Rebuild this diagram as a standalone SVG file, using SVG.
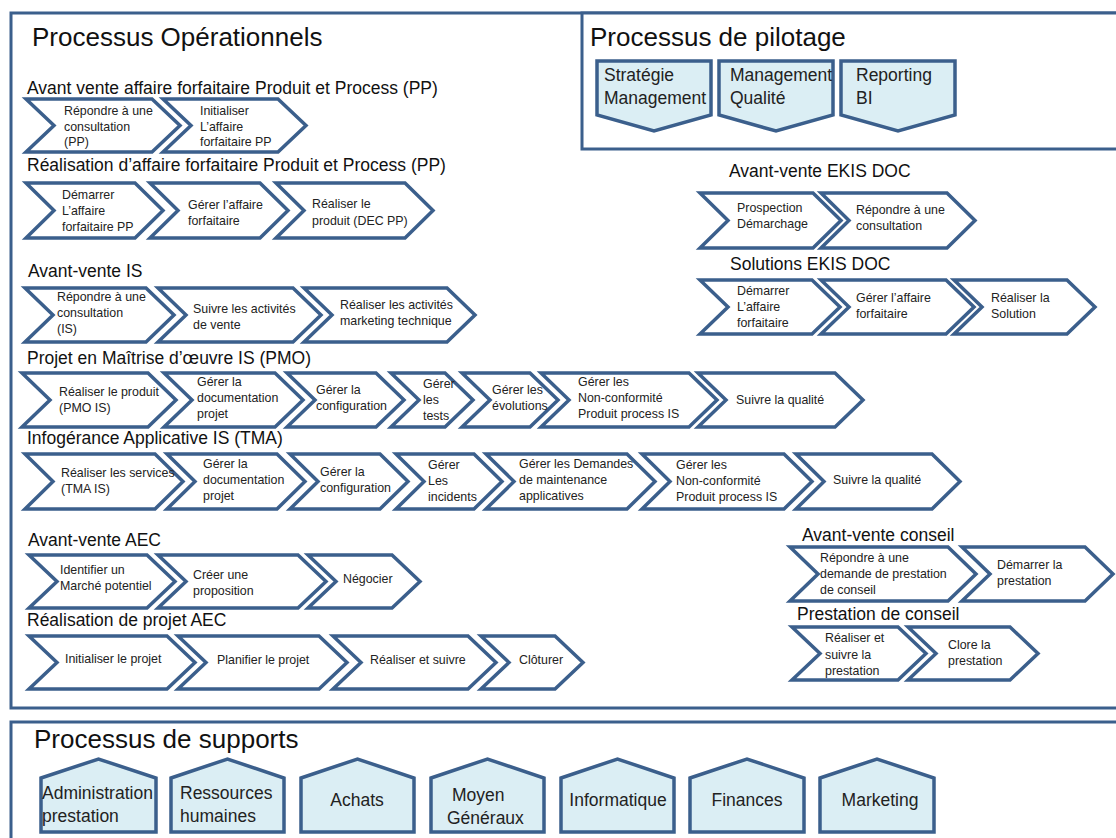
<svg xmlns="http://www.w3.org/2000/svg" width="1116" height="838" viewBox="0 0 1116 838">
<style>
.frame{fill:#ffffff;stroke:#3b5f8c;stroke-width:3}
.chev{fill:#ffffff;stroke:#3b5f8c;stroke-width:3.5;stroke-linejoin:miter}
.pent{fill:#dbeef4;stroke:#3b5f8c;stroke-width:3.5;stroke-linejoin:miter}
.title{font-family:"Liberation Sans",Arial,sans-serif;font-size:26px;fill:#111}
.head{font-family:"Liberation Sans",Arial,sans-serif;font-size:17.5px;fill:#111}
.t{font-family:"Liberation Sans",Arial,sans-serif;font-size:12.4px;fill:#222}
.pt{font-family:"Liberation Sans",Arial,sans-serif;font-size:17.5px;fill:#222}
.mid{text-anchor:middle}
</style>
<rect width="1116" height="838" fill="#ffffff"/>
<g id="frames">
<rect class="frame" x="11" y="13" width="1112" height="695"/>
<rect class="frame" x="582" y="13" width="540" height="136"/>
<rect class="frame" x="11" y="722" width="1112" height="130"/>
<text class="title" x="32" y="46">Processus Opérationnels</text>
<text class="title" x="590" y="46">Processus de pilotage</text>
<text class="title" x="34" y="748">Processus de supports</text>
</g>
<g id="connectors"/>
<g id="pilotage">
<g id="p-strategie"><polygon class="pent" points="597,61 711,61 711,115 654,131 597,115"/><text class="pt" x="604" y="81">Stratégie</text><text class="pt" x="604" y="104">Management</text></g>
<g id="p-qualite"><polygon class="pent" points="719,61 833,61 833,115 776,131 719,115"/><text class="pt" x="730" y="81">Management</text><text class="pt" x="730" y="104">Qualité</text></g>
<g id="p-reporting"><polygon class="pent" points="841,61 955,61 955,115 898,131 841,115"/><text class="pt" x="856" y="81">Reporting</text><text class="pt" x="856" y="104">BI</text></g>
</g>
<g id="supports">
<g id="s-admin"><polygon class="pent" points="41,778 98.5,759 156,778 156,832 41,832"/><text class="pt" x="42" y="799">Administration</text><text class="pt" x="42" y="822">prestation</text></g>
<g id="s-rh"><polygon class="pent" points="171,778 227.5,759 284,778 284,832 171,832"/><text class="pt" x="180" y="799">Ressources</text><text class="pt" x="180" y="822">humaines</text></g>
<g id="s-achats"><polygon class="pent" points="301,778 357.5,759 414,778 414,832 301,832"/><text class="pt mid" x="357" y="806">Achats</text></g>
<g id="s-moyen"><polygon class="pent" points="431,778 487.5,759 544,778 544,832 431,832"/><text class="pt" x="452" y="801">Moyen</text><text class="pt" x="447" y="824">Généraux</text></g>
<g id="s-info"><polygon class="pent" points="561,778 617.5,759 674,778 674,832 561,832"/><text class="pt mid" x="618" y="806">Informatique</text></g>
<g id="s-fin"><polygon class="pent" points="690,778 747,759 804,778 804,832 690,832"/><text class="pt mid" x="747" y="806">Finances</text></g>
<g id="s-mkt"><polygon class="pent" points="820,778 877,759 934,778 934,832 820,832"/><text class="pt mid" x="880" y="806">Marketing</text></g>
</g>
<g id="headings">
<text class="head" x="27" y="94">Avant vente affaire forfaitaire Produit et Process (PP)</text>
<text class="head" x="27" y="171">Réalisation d’affaire forfaitaire Produit et Process (PP)</text>
<text class="head" x="28" y="277">Avant-vente IS</text>
<text class="head" x="27" y="364">Projet en Maîtrise d’œuvre IS (PMO)</text>
<text class="head" x="27" y="444">Infogérance Applicative IS (TMA)</text>
<text class="head" x="28" y="546">Avant-vente AEC</text>
<text class="head" x="27" y="626">Réalisation de projet AEC</text>
<text class="head" x="729" y="177">Avant-vente EKIS DOC</text>
<text class="head" x="730" y="270">Solutions EKIS DOC</text>
<text class="head" x="802" y="541">Avant-vente conseil</text>
<text class="head" x="797" y="620">Prestation de conseil</text>
</g>
<g id="row-pp-av">
<g id="pp1"><polygon class="chev" points="26,99 152,99 180,125.5 152,152 26,152 54,125.5"/><text class="t" x="64" y="115">Répondre à une</text><text class="t" x="64" y="131">consultation</text><text class="t" x="64" y="146">(PP)</text></g>
<g id="pp2"><polygon class="chev" points="163,99 278,99 306,125.5 278,152 163,152 191,125.5"/><text class="t" x="200" y="115">Initialiser</text><text class="t" x="200" y="131">L’affaire</text><text class="t" x="200" y="146">forfaitaire PP</text></g>
</g>
<g id="row-pp-real">
<g id="pr1"><polygon class="chev" points="26,183 135,183 163,210.5 135,238 26,238 54,210.5"/><text class="t" x="62" y="199">Démarrer</text><text class="t" x="62" y="215">L’affaire</text><text class="t" x="62" y="231">forfaitaire PP</text></g>
<g id="pr2"><polygon class="chev" points="150,183 260,183 288,210.5 260,238 150,238 178,210.5"/><text class="t" x="188" y="209">Gérer l’affaire</text><text class="t" x="188" y="225">forfaitaire</text></g>
<g id="pr3"><polygon class="chev" points="276,183 405,183 433,210.5 405,238 276,238 304,210.5"/><text class="t" x="312" y="208">Réaliser le</text><text class="t" x="312" y="225">produit (DEC PP)</text></g>
</g>
<g id="row-is-av">
<g id="is1"><polygon class="chev" points="25,288 146,288 174,315 146,342 25,342 53,315"/><text class="t" x="57" y="301">Répondre à une</text><text class="t" x="57" y="317">consultation</text><text class="t" x="57" y="333">(IS)</text></g>
<g id="is2"><polygon class="chev" points="158,288 293,288 321,315 293,342 158,342 186,315"/><text class="t" x="193" y="313">Suivre les activités</text><text class="t" x="193" y="329">de vente</text></g>
<g id="is3"><polygon class="chev" points="304,288 447,288 475,315 447,342 304,342 332,315"/><text class="t" x="340" y="309">Réaliser les activités</text><text class="t" x="340" y="325">marketing technique</text></g>
</g>
<g id="row-pmo">
<g id="pmo1"><polygon class="chev" points="22,373 148,373 176,400 148,427 22,427 50,400"/><text class="t" x="59" y="396">Réaliser le produit</text><text class="t" x="59" y="412">(PMO IS)</text></g>
<g id="pmo2"><polygon class="chev" points="164,373 275,373 303,400 275,427 164,427 192,400"/><text class="t" x="197" y="386">Gérer la</text><text class="t" x="197" y="402">documentation</text><text class="t" x="197" y="418">projet</text></g>
<g id="pmo3"><polygon class="chev" points="287,373 376,373 404,400 376,427 287,427 315,400"/><text class="t" x="316" y="394">Gérer la</text><text class="t" x="316" y="410">configuration</text></g>
<g id="pmo4"><polygon class="chev" points="391,373 445,373 473,400 445,427 391,427 419,400"/><text class="t" x="423" y="388">Gérer</text><text class="t" x="423" y="404">les</text><text class="t" x="423" y="420">tests</text></g>
<g id="pmo5"><polygon class="chev" points="462,373 530,373 558,400 530,427 462,427 490,400"/><text class="t" x="492" y="394">Gérer les</text><text class="t" x="492" y="410">évolutions</text></g>
<g id="pmo6"><polygon class="chev" points="541,373 689,373 717,400 689,427 541,427 569,400"/><text class="t" x="578" y="386">Gérer les</text><text class="t" x="578" y="402">Non-conformité</text><text class="t" x="578" y="418">Produit process IS</text></g>
<g id="pmo7"><polygon class="chev" points="698,373 835,373 863,400 835,427 698,427 726,400"/><text class="t" x="736" y="404">Suivre la qualité</text></g>
</g>
<g id="row-tma">
<g id="tma1"><polygon class="chev" points="25,454 155,454 183,481.5 155,509 25,509 53,481.5"/><text class="t" x="61" y="477">Réaliser les services</text><text class="t" x="61" y="493">(TMA IS)</text></g>
<g id="tma2"><polygon class="chev" points="167,454 277,454 305,481.5 277,509 167,509 195,481.5"/><text class="t" x="203" y="468">Gérer la</text><text class="t" x="203" y="484">documentation</text><text class="t" x="203" y="500">projet</text></g>
<g id="tma3"><polygon class="chev" points="290,454 380,454 408,481.5 380,509 290,509 318,481.5"/><text class="t" x="320" y="476">Gérer la</text><text class="t" x="320" y="492">configuration</text></g>
<g id="tma4"><polygon class="chev" points="396,454 474,454 502,481.5 474,509 396,509 424,481.5"/><text class="t" x="428" y="469">Gérer</text><text class="t" x="428" y="485">Les</text><text class="t" x="428" y="501">incidents</text></g>
<g id="tma5"><polygon class="chev" points="486,454 627,454 655,481.5 627,509 486,509 514,481.5"/><text class="t" x="519" y="468">Gérer les Demandes</text><text class="t" x="519" y="484">de maintenance</text><text class="t" x="519" y="500">applicatives</text></g>
<g id="tma6"><polygon class="chev" points="642,454 784,454 812,481.5 784,509 642,509 670,481.5"/><text class="t" x="676" y="469">Gérer les</text><text class="t" x="676" y="485">Non-conformité</text><text class="t" x="676" y="501">Produit process IS</text></g>
<g id="tma7"><polygon class="chev" points="796,454 932,454 960,481.5 932,509 796,509 824,481.5"/><text class="t" x="833" y="484">Suivre la qualité</text></g>
</g>
<g id="row-aec-av">
<g id="aec1"><polygon class="chev" points="29,555 147,555 175,581.5 147,608 29,608 57,581.5"/><text class="t" x="60" y="574">Identifier un</text><text class="t" x="60" y="590">Marché potentiel</text></g>
<g id="aec2"><polygon class="chev" points="158,555 298,555 326,581.5 298,608 158,608 186,581.5"/><text class="t" x="193" y="579">Créer une</text><text class="t" x="193" y="595">proposition</text></g>
<g id="aec3"><polygon class="chev" points="308,555 392,555 420,581.5 392,608 308,608 336,581.5"/><text class="t" x="343" y="583">Négocier</text></g>
</g>
<g id="row-aec-real">
<g id="ar1"><polygon class="chev" points="29,636 167,636 195,662.5 167,689 29,689 57,662.5"/><text class="t" x="65" y="663">Initialiser le projet</text></g>
<g id="ar2"><polygon class="chev" points="178,636 319,636 347,662.5 319,689 178,689 206,662.5"/><text class="t" x="217" y="664">Planifier le projet</text></g>
<g id="ar3"><polygon class="chev" points="333,636 468,636 496,662.5 468,689 333,689 361,662.5"/><text class="t" x="370" y="664">Réaliser et suivre</text></g>
<g id="ar4"><polygon class="chev" points="481,636 555,636 583,662.5 555,689 481,689 509,662.5"/><text class="t" x="519" y="664">Clôturer</text></g>
</g>
<g id="row-ekis-av">
<g id="ek1"><polygon class="chev" points="700,193 813,193 841,220.5 813,248 700,248 728,220.5"/><text class="t" x="737" y="212">Prospection</text><text class="t" x="737" y="228">Démarchage</text></g>
<g id="ek2"><polygon class="chev" points="821,193 947,193 975,220.5 947,248 821,248 849,220.5"/><text class="t" x="856" y="214">Répondre à une</text><text class="t" x="856" y="230">consultation</text></g>
</g>
<g id="row-ekis-sol">
<g id="es1"><polygon class="chev" points="700,280 812,280 840,307 812,334 700,334 728,307"/><text class="t" x="737" y="295">Démarrer</text><text class="t" x="737" y="311">L’affaire</text><text class="t" x="737" y="327">forfaitaire</text></g>
<g id="es2"><polygon class="chev" points="821,280 946,280 974,307 946,334 821,334 849,307"/><text class="t" x="856" y="302">Gérer l’affaire</text><text class="t" x="856" y="318">forfaitaire</text></g>
<g id="es3"><polygon class="chev" points="954,280 1067,280 1095,307 1067,334 954,334 982,307"/><text class="t" x="991" y="302">Réaliser la</text><text class="t" x="991" y="318">Solution</text></g>
</g>
<g id="row-conseil-av">
<g id="ca1"><polygon class="chev" points="790,547 948,547 976,574 948,601 790,601 818,574"/><text class="t" x="820" y="562">Répondre à une</text><text class="t" x="820" y="578">demande de prestation</text><text class="t" x="820" y="594">de conseil</text></g>
<g id="ca2"><polygon class="chev" points="962,547 1085,547 1113,574 1085,601 962,601 990,574"/><text class="t" x="997" y="569">Démarrer la</text><text class="t" x="997" y="585">prestation</text></g>
</g>
<g id="row-conseil-prest">
<g id="cp1"><polygon class="chev" points="792,627 898,627 926,653.5 898,680 792,680 820,653.5"/><text class="t" x="825" y="642">Réaliser et</text><text class="t" x="825" y="659">suivre la</text><text class="t" x="825" y="675">prestation</text></g>
<g id="cp2"><polygon class="chev" points="908,627 1010,627 1038,653.5 1010,680 908,680 936,653.5"/><text class="t" x="948" y="649">Clore la</text><text class="t" x="948" y="665">prestation</text></g>
</g>
</svg>
